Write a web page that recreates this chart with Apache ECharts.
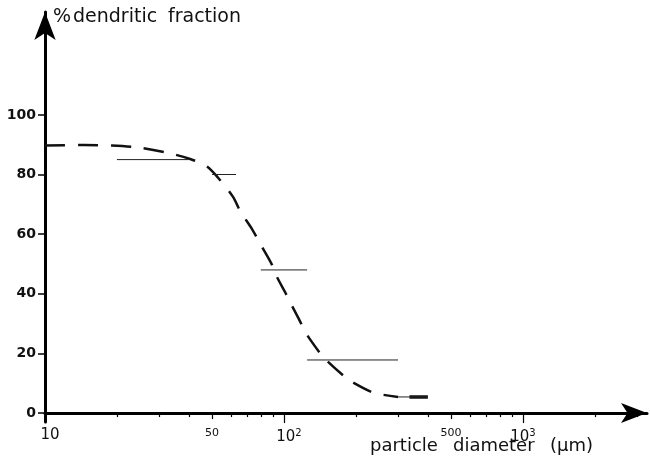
<!DOCTYPE html>
<html>
<head>
<meta charset="utf-8">
<script src="https://cdn.jsdelivr.net/npm/echarts@6/dist/echarts.min.js"></script>
<style>
  html, body { margin: 0; padding: 0; background: #fff; }
  #main { width: 650px; height: 456px; }
</style>
</head>
<body>
<div id="main"></div>
<script>
// dashed fitted curve (diameter in µm, % dendritic)
var curveX = [10, 14.6, 19, 24.7, 32.4, 40.5, 47.6, 53, 61.2, 65.5, 73.5, 80.9, 89.1, 93.5, 101, 106, 115.5, 123.6, 141.5, 150, 180, 193, 233, 252, 300];
var curveY = [89.7, 89.9, 89.7, 89.0, 87.3, 85.2, 82.7, 78.9, 72.5, 67.8, 61.7, 55.7, 49.7, 45.6, 40.6, 37.2, 31.5, 26.8, 20.1, 17.8, 12.1, 10.4, 7.0, 6.3, 5.4];
// solid end piece of the curve
var tailX = [335, 400];
var tailY = [5.4, 5.4];

// measured size classes (horizontal bars)
var binLow = [20, 50, 80, 125, 300];
var binHigh = [40, 63, 125, 300, 400];
var binValue = [85, 80, 48, 17.8, 5.4];

// axis ticks / labels
var xLabelValues = [10, 50, 100, 500, 1000];
var xMinorTicks = [20, 30, 40, 60, 70, 80, 90, 200, 300, 400, 600, 700, 800, 900, 2000, 3000];
var xMidTicks = [50, 500];
var xMajorTicks = [10, 100, 1000];
var yTicks = [0, 20, 40, 60, 80, 100];

var FONT = 'DejaVu Sans';

function zip(xs, ys) {
  return xs.map(function (x, i) { return [x, ys[i]]; });
}

var chart = echarts.init(document.getElementById('main'), null, { renderer: 'canvas' });

var baseX = {
  type: 'log',
  logBase: 10,
  min: 10,
  max: 3304,
  position: 'bottom',
  splitLine: { show: false },
  axisLine: { show: false, onZero: true, onZeroAxisIndex: 0 },
  axisLabel: { show: false },
  axisTick: { show: false }
};

function tickAxis(values, len) {
  return Object.assign({}, baseX, {
    axisTick: { show: true, customValues: values, length: len, lineStyle: { color: '#000', width: 1.2 } }
  });
}

var series = [{
  type: 'line',
  data: zip(curveX, curveY),
  smooth: 0.3,
  symbol: 'none',
  silent: true,
  lineStyle: { color: '#111', width: 2.5, type: [20, 13] }
}, {
  type: 'line',
  data: zip(tailX, tailY),
  symbol: 'none',
  silent: true,
  lineStyle: { color: '#111', width: 3.5 }
}];

binLow.forEach(function (lo, i) {
  series.push({
    type: 'line',
    data: [[lo, binValue[i]], [binHigh[i], binValue[i]]],
    symbol: 'none',
    silent: true,
    lineStyle: { color: '#222', width: 1 }
  });
});

var option = {
  animation: false,
  backgroundColor: '#fff',
  grid: { left: 45, right: 3, top: 12, bottom: 34, containLabel: false },
  title: [{
    text: '{a|%}{b|dendritic}{c|fraction}',
    left: 53, top: 8, padding: 0,
    textStyle: {
      fontFamily: FONT, fontSize: 19, fontWeight: 'normal', color: '#111',
      rich: {
        a: { fontFamily: FONT, fontSize: 19, width: 20, color: '#111' },
        b: { fontFamily: FONT, fontSize: 19, width: 95, color: '#111' },
        c: { fontFamily: FONT, fontSize: 19, color: '#111' }
      }
    }
  }, {
    text: '{a|particle}{b|diameter}{c|(µm)}',
    left: 370, top: 437, padding: 0,
    textStyle: {
      fontFamily: FONT, fontSize: 18, fontWeight: 'normal', color: '#111',
      rich: {
        a: { fontFamily: FONT, fontSize: 18, width: 83, color: '#111' },
        b: { fontFamily: FONT, fontSize: 18, width: 97, color: '#111' },
        c: { fontFamily: FONT, fontSize: 18, color: '#111' }
      }
    }
  }],
  xAxis: [
    Object.assign({}, baseX, {
      axisLine: {
        show: true, onZero: true, onZeroAxisIndex: 0,
        symbol: ['none', 'arrow'], symbolSize: [15, 26],
        lineStyle: { color: '#000', width: 3 }
      },
      axisTick: { show: true, customValues: xMinorTicks, length: 4, lineStyle: { color: '#000', width: 1.2 } },
      axisLabel: {
        show: true,
        customValues: xLabelValues,
        margin: 6,
        formatter: function (v) {
          if (v === 50 || v === 500) return '{s|' + v + '}';
          var p = Math.round(Math.log(v) / Math.LN10);
          if (p === 1) return '{bl|10}';
          if (p === 2) return '{bl|10}{sup|2}';
          return '{b|10}{sup|' + p + '}';
        },
        rich: {
          b: { fontFamily: FONT, fontSize: 15, color: '#111' },
          bl: { fontFamily: FONT, fontSize: 15, color: '#111', padding: [0, 0, 0, 10] },
          s: { fontFamily: FONT, fontSize: 11, color: '#111', padding: [0, 0, 10, 0] },
          sup: { fontFamily: FONT, fontSize: 10, color: '#111', padding: [0, 0, 8, 0] }
        }
      }
    }),
    tickAxis(xMidTicks, 6),
    tickAxis(xMajorTicks, 10)
  ],
  yAxis: {
    type: 'value',
    min: -3,
    max: 134.5,
    splitLine: { show: false },
    axisLine: {
      show: true,
      symbol: ['none', 'arrow'], symbolSize: [16, 28],
      lineStyle: { color: '#000', width: 3 }
    },
    axisTick: { show: true, customValues: yTicks, length: 7, lineStyle: { color: '#000', width: 1.5 } },
    axisLabel: {
      show: true,
      customValues: yTicks,
      margin: 9,
      fontFamily: FONT, fontSize: 14, fontWeight: 'bold', color: '#111'
    }
  },
  series: series
};

chart.setOption(option);
</script>
</body>
</html>
